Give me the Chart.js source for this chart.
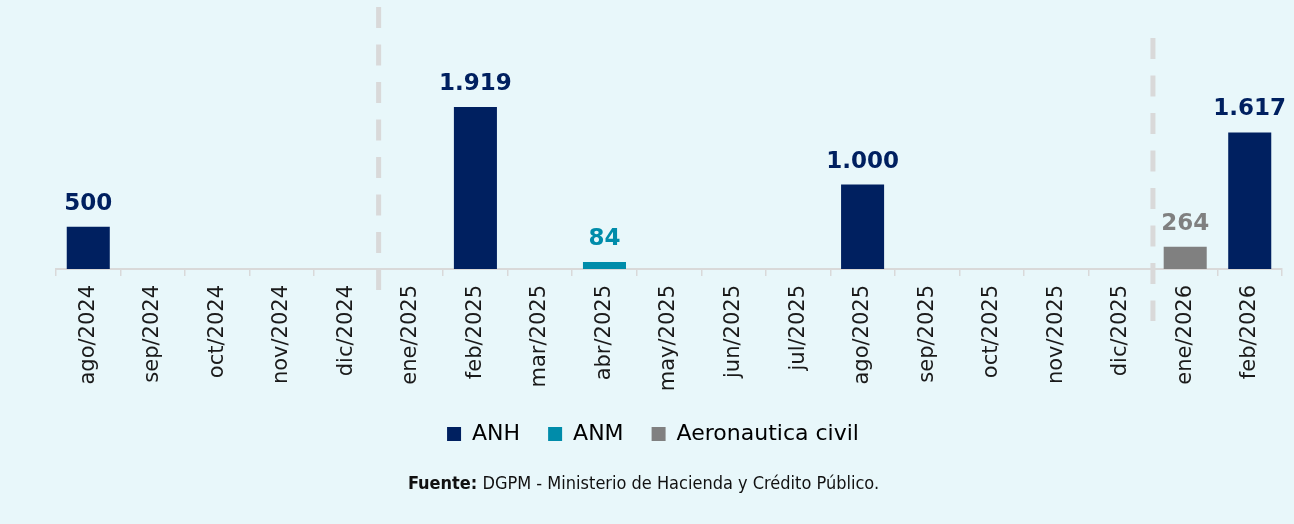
<!DOCTYPE html>
<html>
<head>
<meta charset="utf-8">
<script src="https://cdn.jsdelivr.net/npm/chart.js@4.4.1/dist/chart.umd.min.js"></script>
<style>
  html, body { margin: 0; padding: 0; background: #e8f7fa; }
  #wrap { position: relative; width: 1294px; height: 524px; }
  #fuente {
    position: absolute; left: 0; width: 1287px; top: 472px; text-align: center;
    font-family: 'DejaVu Sans Condensed', 'Liberation Sans Narrow', 'DejaVu Sans', sans-serif;
    font-size: 18px; color: #111;
  }
</style>
</head>
<body>
<div id="wrap">
  <canvas id="chart"></canvas>
  <div id="fuente"><b>Fuente:</b> DGPM - Ministerio de Hacienda y Crédito Público.</div>
</div>
<script>
const months = ['ago/2024', 'sep/2024', 'oct/2024', 'nov/2024', 'dic/2024',
  'ene/2025', 'feb/2025', 'mar/2025', 'abr/2025', 'may/2025', 'jun/2025', 'jul/2025',
  'ago/2025', 'sep/2025', 'oct/2025', 'nov/2025', 'dic/2025', 'ene/2026', 'feb/2026'];

const anh  = [500, null, null, null, null, null, 1919, null, null, null, null, null, 1000, null, null, null, null, null, 1617];
const anm  = [null, null, null, null, null, null, null, null, 84, null, null, null, null, null, null, null, null, null, null];
const aero = [null, null, null, null, null, null, null, null, null, null, null, null, null, null, null, null, null, 264, null];

// year breaks (dashed lines after these months)
const yearBreaks = ['dic/2024', 'dic/2025'];

const fmt = v => String(v).replace(/\B(?=(\d{3})+(?!\d))/g, '.');

const valueLabels = {
  id: 'valueLabels',
  afterDatasetsDraw(chart) {
    const ctx = chart.ctx;
    ctx.save();
    ctx.font = 'bold 23px "DejaVu Sans"';
    ctx.textAlign = 'center';
    ctx.textBaseline = 'alphabetic';
    chart.data.datasets.forEach((ds, i) => {
      chart.getDatasetMeta(i).data.forEach((bar, j) => {
        const v = ds.data[j];
        if (v == null) return;
        ctx.fillStyle = ds.backgroundColor;
        ctx.fillText(fmt(v), bar.x, bar.y - 17);
      });
    });
    ctx.restore();
  }
};

const breakLines = {
  id: 'breakLines',
  beforeDatasetsDraw(chart) {
    const ctx = chart.ctx;
    const x = chart.scales.x;
    const spans = [[7, 290], [38, 321]];
    ctx.save();
    ctx.strokeStyle = '#d9d9d9';
    ctx.lineWidth = 5;
    ctx.setLineDash([21, 16.5]);
    yearBreaks.forEach((m, k) => {
      const i = months.indexOf(m);
      const px = (x.getPixelForValue(i) + x.getPixelForValue(i + 1)) / 2;
      ctx.beginPath();
      ctx.moveTo(px, spans[k][0]);
      ctx.lineTo(px, spans[k][1]);
      ctx.stroke();
    });
    ctx.restore();
  }
};

new Chart(document.getElementById('chart'), {
  type: 'bar',
  data: {
    labels: months,
    datasets: [
      { label: 'ANH', data: anh, backgroundColor: '#002060' },
      { label: 'ANM', data: anm, backgroundColor: '#008caa' },
      { label: 'Aeronautica civil', data: aero, backgroundColor: '#808080' }
    ]
  },
  options: {
    animation: false,
    responsive: true,
    maintainAspectRatio: false,
    layout: { padding: { top: 8, left: 24, right: 12, bottom: 69 } },
    datasets: { bar: { categoryPercentage: 1, barPercentage: 0.667 } },
    scales: {
      x: {
        stacked: true,
        afterFit: s => { s.height = 126; },
        grid: { drawOnChartArea: false, color: '#d9d9d9', lineWidth: 1.5, tickLength: 7 },
        border: { color: '#d9d9d9', width: 2 },
        ticks: {
          autoSkip: false, maxRotation: 90, minRotation: 90, padding: 9,
          color: '#1a1a1a', font: { family: 'DejaVu Sans', size: 21 }
        }
      },
      y: {
        stacked: true,
        min: 0, max: 3090,
        afterFit: s => { s.width = 32; },
        grid: { display: false },
        border: { display: false },
        ticks: { display: false }
      }
    },
    plugins: {
      legend: {
        position: 'bottom',
        labels: {
          boxWidth: 14, boxHeight: 14, padding: 28, color: '#000',
          font: { family: 'DejaVu Sans', size: 22 }
        }
      },
      tooltip: { enabled: false }
    }
  },
  plugins: [breakLines, valueLabels]
});
</script>
</body>
</html>
